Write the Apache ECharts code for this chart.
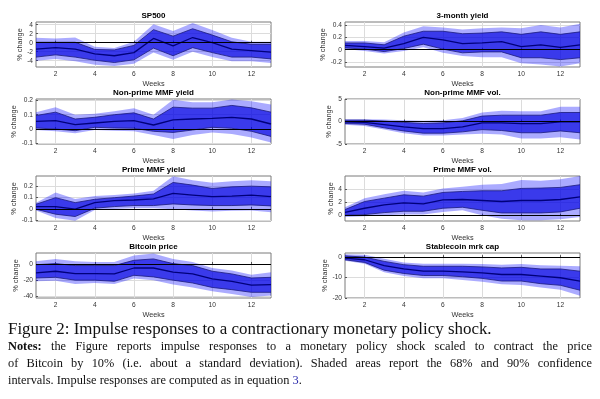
<!DOCTYPE html>
<html>
<head>
<meta charset="utf-8">
<script src="https://cdn.jsdelivr.net/npm/echarts@6.0.0/dist/echarts.min.js"></script>
<style>
html,body{margin:0;padding:0;background:#fff;}
#chart{width:600px;height:399px;}
</style>
</head>
<body>
<div id="chart"></div>
<script>
// ---------------- DATA ----------------
const weeks = [1,2,3,4,5,6,7,8,9,10,11,12,13];
const weekTicks = [2,4,6,8,10,12];
const panelTitles = ['SP500','3-month yield','Non-prime MMF yield','Non-prime MMF vol.','Prime MMF yield','Prime MMF vol.','Bitcoin price','Stablecoin mrk cap'];

// SP500
const sp500Median = [-1.45,-1.1,-1.45,-2.5,-2.9,-2.2,0.95,-0.7,1.15,0,-1.45,-1.75,-2.1];
const sp500Hi68   = [0.1,0.1,0.1,-1.5,-1.6,-0.6,2.9,1.45,3.1,1.7,0.2,-0.35,-0.35];
const sp500Lo68   = [-3.2,-2.7,-3.2,-3.9,-4.4,-3.8,-1.2,-2.9,-1.1,-2.2,-3.2,-3.2,-3.6];
const sp500Hi90   = [1.1,0.95,1.15,-0.9,-1.2,0.2,4.1,2.6,4.4,2.8,1.1,0.2,0.2];
const sp500Lo90   = [-4,-3.6,-4.1,-4.9,-5.2,-4.7,-2.2,-3.8,-2,-3.2,-4.1,-4.1,-4.5];
const sp500Ticks  = [-4,-2,0,2,4];

// 3-month yield
const y3mMedian = [0.07,0.05,0.025,0.1,0.2,0.16,0.1,0.11,0.13,0.05,0.08,0.04,0.08];
const y3mHi68   = [0.11,0.11,0.08,0.22,0.3,0.3,0.26,0.27,0.29,0.25,0.29,0.25,0.29];
const y3mLo68   = [0.03,0.01,-0.03,0.02,0.09,0.01,-0.05,-0.035,-0.035,-0.13,-0.13,-0.16,-0.13];
const y3mHi90   = [0.14,0.14,0.12,0.28,0.38,0.36,0.33,0.35,0.36,0.35,0.4,0.36,0.42];
const y3mLo90   = [0.01,-0.02,-0.06,-0.02,0.04,-0.05,-0.1,-0.12,-0.12,-0.22,-0.24,-0.27,-0.22];
const y3mTicks  = [-0.2,0,0.2,0.4];

// Non-prime MMF yield
const npYieldMedian = [0.054,0.059,0.03,0.042,0.054,0.059,0.028,0.064,0.07,0.075,0.082,0.07,0.035];
const npYieldHi68   = [0.094,0.118,0.07,0.082,0.1,0.113,0.07,0.153,0.146,0.146,0.165,0.148,0.118];
const npYieldLo68   = [0.007,0,-0.012,0.012,0.007,0.005,-0.016,-0.024,-0.007,0.012,0.005,-0.016,-0.052];
const npYieldHi90   = [0.118,0.153,0.099,0.106,0.125,0.146,0.1,0.205,0.188,0.188,0.207,0.195,0.172];
const npYieldLo90   = [-0.007,-0.016,-0.03,-0.007,-0.012,-0.016,-0.042,-0.07,-0.042,-0.024,-0.035,-0.059,-0.094];
const npYieldTicks  = [-0.1,0,0.1,0.2];

// Non-prime MMF vol.
const npVolMedian = [-0.1,-0.2,-0.7,-1.2,-1.6,-1.6,-1.2,-0.3,-0.3,-0.45,-0.45,-0.1,-0.1];
const npVolHi68   = [0.3,0.3,0.1,-0.2,-0.45,-0.3,0.15,1.2,1.4,1.4,1.4,2,2];
const npVolLo68   = [-0.45,-0.6,-1.4,-2.1,-2.6,-2.6,-2.3,-1.8,-2,-2.5,-2.5,-2.1,-2.5];
const npVolHi90   = [0.5,0.5,0.45,0.3,0.15,0.3,0.8,2,2.4,2.3,2.3,3.3,3.3];
const npVolLo90   = [-0.7,-1,-1.8,-2.6,-3.1,-3.1,-2.9,-2.7,-2.9,-3.8,-3.8,-3.5,-4];
const npVolTicks  = [-5,0,5];

// Prime MMF yield
const pYieldMedian = [0.02,0.02,-0.003,0.054,0.071,0.077,0.086,0.134,0.12,0.106,0.111,0.12,0.106];
const pYieldHi68   = [0.04,0.097,0.054,0.083,0.097,0.111,0.129,0.229,0.206,0.177,0.191,0.197,0.191];
const pYieldLo68   = [-0.003,-0.046,-0.066,0.006,0.02,0.029,0.029,0.043,0.034,0.029,0.029,0.034,0.026];
const pYieldHi90   = [0.054,0.143,0.086,0.111,0.12,0.134,0.157,0.283,0.249,0.226,0.24,0.249,0.24];
const pYieldLo90   = [-0.014,-0.08,-0.103,-0.009,0,0.006,0.006,-0.003,-0.014,-0.023,-0.017,-0.014,-0.029];
const pYieldTicks  = [-0.1,0,0.1,0.2];

// Prime MMF vol.
const pVolMedian = [0.5,1.1,1.6,1.9,1.75,2.35,2.4,2.25,2.1,2.25,2.25,2.4,2.8];
const pVolHi68   = [0.9,2.1,2.6,3.1,2.9,3.45,3.6,3.7,3.7,4.05,4.1,4.2,4.6];
const pVolLo68   = [0.05,0.15,0.45,0.65,0.65,1.1,1.25,0.8,0.4,0.4,0.4,0.55,1.1];
const pVolHi90   = [1.25,2.6,3.2,3.7,3.45,4.05,4.3,4.6,4.7,5.3,5.2,5.4,5.9];
const pVolLo90   = [-0.2,-0.1,0.05,0.15,0.15,0.55,0.8,0.05,-0.45,-0.7,-0.7,-0.55,-0.2];
const pVolTicks  = [0,2,4];

// Bitcoin price
const btcMedian = [-11,-9,-12,-12,-12.3,-5,-5,-10,-12.3,-18.5,-21.4,-26,-25.5];
const btcHi68   = [-1,0.4,-2,-2,-2,4.5,6.2,0.4,-2,-9,-12.3,-17.3,-16.5];
const btcLo68   = [-17.3,-16.5,-20,-20,-21.4,-14,-16,-20,-23.5,-29,-31.7,-35,-35];
const btcHi90   = [3.3,6.2,3.3,2.5,2.5,10.3,12.8,6.2,2.5,-5,-8.2,-13.2,-10.3];
const btcLo90   = [-21.4,-20.6,-24.7,-23.5,-24.7,-18,-20,-25.5,-29,-33.7,-37,-40.7,-39];
const btcTicks  = [-40,-20,0];

// Stablecoin mrk cap
const stableMedian = [-0.5,-1.3,-4.2,-5.8,-6.9,-6.9,-7.2,-7.7,-8.5,-8.5,-9.3,-10.1,-11.7];
const stableHi68   = [0.6,0,-2.1,-3.7,-4.5,-4.5,-4.5,-4.8,-5.3,-5,-5.8,-5.8,-6.9];
const stableLo68   = [-1.3,-2.6,-6.4,-8,-9,-9,-9.6,-10.4,-11.7,-11.7,-13,-13.8,-16.2];
const stableHi90   = [1.4,1.1,-0.8,-2.6,-3.2,-3.2,-3.2,-3.4,-3.7,-3.4,-4,-4.2,-4.5];
const stableLo90   = [-1.8,-3.2,-7.4,-9.3,-10.4,-10.4,-11.2,-12,-13.3,-13.6,-14.9,-16,-18.9];
const stableTicks  = [-20,-10,0];

// axis ranges
const yRanges = [[-5.4,4.6],[-0.28,0.45],[-0.105,0.21],[-5,5],[-0.105,0.285],[-0.8,5.9],[-42,13.5],[-20,2]];

// caption text
const captionTitle = 'Figure 2: Impulse responses to a contractionary monetary policy shock.';
const notesLabel = 'Notes:';
const notesLine1 = ' the Figure reports impulse responses to a monetary policy shock scaled to contract the price';
const notesLine2 = 'of Bitcoin by 10% (i.e. about a standard deviation). Shaded areas report the 68% and 90% confidence';
const notesLine3 = 'intervals. Impulse responses are computed as in equation ';
const notesRef = '3';

// ---------------- BUILD ----------------
const panels = [
  {med:sp500Median, hi68:sp500Hi68, lo68:sp500Lo68, hi90:sp500Hi90, lo90:sp500Lo90, ticks:sp500Ticks, gap:10.5},
  {med:y3mMedian, hi68:y3mHi68, lo68:y3mLo68, hi90:y3mHi90, lo90:y3mLo90, ticks:y3mTicks, gap:15},
  {med:npYieldMedian, hi68:npYieldHi68, lo68:npYieldLo68, hi90:npYieldHi90, lo90:npYieldLo90, ticks:npYieldTicks, gap:15.5},
  {med:npVolMedian, hi68:npVolHi68, lo68:npVolLo68, hi90:npVolHi90, lo90:npVolLo90, ticks:npVolTicks, gap:10},
  {med:pYieldMedian, hi68:pYieldHi68, lo68:pYieldLo68, hi90:pYieldHi90, lo90:pYieldLo90, ticks:pYieldTicks, gap:15},
  {med:pVolMedian, hi68:pVolHi68, lo68:pVolLo68, hi90:pVolHi90, lo90:pVolLo90, ticks:pVolTicks, gap:9.5},
  {med:btcMedian, hi68:btcHi68, lo68:btcLo68, hi90:btcHi90, lo90:btcLo90, ticks:btcTicks, gap:14},
  {med:stableMedian, hi68:stableHi68, lo68:stableLo68, hi90:stableHi90, lo90:stableLo90, ticks:stableTicks, gap:14}
];

const colLeft = [36, 345];
const gridW = 235;
const rowTop = [22, 99, 176, 253];
const gridH = 45;

const LIGHT = 'rgba(0,0,255,0.33)';
const DARK = 'rgba(0,0,225,0.66)';
const EDGE = '#1a1a7a';
const MED = '#00007a';
const AXC = '#333333';
const SANS = '"Liberation Sans", Arial, sans-serif';

function pairs(arr){ return weeks.map((w,k)=>[w, arr[k]]); }

function bandSeries(i, lo, hi, color){
  return {
    type:'custom', xAxisIndex:i, yAxisIndex:i, silent:true, animation:false,
    clip:true,
    encode:{x:0, y:[1,2]},
    data: weeks.map((w,k)=>[w, lo[k], hi[k]]),
    renderItem:(params, api)=>{
      if(params.dataIndex!==0) return null;
      const pts=[];
      for(let k=0;k<weeks.length;k++) pts.push(api.coord([weeks[k], hi[k]]));
      for(let k=weeks.length-1;k>=0;k--) pts.push(api.coord([weeks[k], lo[k]]));
      return {type:'polygon', shape:{points:pts}, style:{fill:color, stroke:null}};
    }
  };
}

const grids=[], xAxes=[], yAxes=[], series=[], graphics=[];
panels.forEach((p,i)=>{
  const col=i%2, row=Math.floor(i/2);
  grids.push({left:colLeft[col], top:rowTop[row], width:gridW, height:gridH, show:true, borderColor:'#7a7a7a', borderWidth:1, backgroundColor:'transparent', containLabel:false});
  xAxes.push({
    gridIndex:i, type:'value', min:1, max:13,
    axisLine:{show:false},
    axisTick:{show:true, inside:true, length:2, lineStyle:{color:'#555'}, customValues:weekTicks},
    axisLabel:{customValues:weekTicks, fontSize:6.6, color:AXC, margin:4, fontFamily:SANS},
    splitLine:{show:true, lineStyle:{color:'#dcdcdc', width:1}},
    name:'Weeks', nameLocation:'middle', nameGap:13.5,
    nameTextStyle:{fontSize:7.3, color:AXC, fontFamily:SANS}
  });
  yAxes.push({
    gridIndex:i, type:'value', min:yRanges[i][0], max:yRanges[i][1],
    axisLine:{show:false},
    axisTick:{show:true, inside:true, length:2, lineStyle:{color:'#555'}, customValues:p.ticks},
    axisLabel:{customValues:p.ticks, fontSize:6.6, color:AXC, margin:3, fontFamily:SANS},
    splitLine:{show:true, lineStyle:{color:'#dcdcdc', width:1}},
    name:'% change', nameLocation:'middle', nameGap:p.gap, nameRotate:90,
    nameTextStyle:{fontSize:7.3, color:AXC, fontFamily:SANS}
  });
  const base = {type:'line', xAxisIndex:i, yAxisIndex:i, symbol:'none', silent:true, animation:false, emphasis:{disabled:true}};
  series.push(bandSeries(i, p.lo90, p.hi90, LIGHT));
  series.push(bandSeries(i, p.lo68, p.hi68, DARK));
  series.push(Object.assign({}, base, {data:pairs(p.lo68), lineStyle:{color:EDGE, width:0.8}}));
  series.push(Object.assign({}, base, {data:pairs(p.hi68), lineStyle:{color:EDGE, width:0.8}}));
  series.push(Object.assign({}, base, {data:pairs(p.med), lineStyle:{color:MED, width:1.3},
    markLine:{silent:true, symbol:'none', animation:false, label:{show:false}, lineStyle:{color:'#000', width:1, type:'solid'}, data:[{yAxis:0}]}}));
  graphics.push({type:'text', x:colLeft[col]+gridW/2, y:rowTop[row]-6.5, z:10,
    style:{text:panelTitles[i], fontSize:8, fontWeight:'bold', fontFamily:SANS, fill:'#000', align:'center', verticalAlign:'middle'}});
});

// ---- caption layout ----
const mctx = document.createElement('canvas').getContext('2d');
const SERIF = '"Liberation Serif", "Times New Roman", serif';
function fontStr(fs,bold){ return (bold?'bold ':'')+fs+'px '+SERIF; }
function measure(t,fs,bold){ mctx.font=fontStr(fs,bold); return mctx.measureText(t).width; }
function tokenize(segs){
  const words=[]; let prevSpace=true;
  segs.forEach(s=>{
    const parts=s.text.split(' ');
    parts.forEach((pt,idx)=>{
      if(!pt.length) return;
      const attach = idx===0 && !prevSpace && words.length>0;
      const tok={t:pt,bold:!!s.bold,color:s.color||'#111'};
      if(attach) words[words.length-1].push(tok); else words.push([tok]);
    });
    prevSpace = s.text.endsWith(' ');
  });
  return words;
}
function layoutLine(segs,x0,x1,y,fs,justify){
  const words=tokenize(segs);
  const widths=words.map(w=>w.reduce((a,tk)=>a+measure(tk.t,fs,tk.bold),0));
  const total=widths.reduce((a,b)=>a+b,0);
  const gap = justify ? (x1-x0-total)/(words.length-1) : measure(' ',fs,false);
  let x=x0;
  words.forEach((w,k)=>{
    let xx=x;
    w.forEach(tk=>{
      graphics.push({type:'text', x:xx, y:y, style:{text:tk.t, fontSize:fs, fontWeight:tk.bold?'bold':'normal', fontFamily:SERIF, fill:tk.color, align:'left', verticalAlign:'middle'}});
      xx+=measure(tk.t,fs,tk.bold);
    });
    x+=widths[k]+gap;
  });
}
const titleFs = +(15*484/measure(captionTitle,15,false)).toFixed(2);
const line3Segs=[{text:notesLine3},{text:notesRef,color:'#1f1fa8'},{text:'.'}];
const notesFs = +(13*294/measure(notesLine3+notesRef+'.',13,false)).toFixed(2);
layoutLine([{text:captionTitle}],8,492,330,titleFs,false);
layoutLine([{text:notesLabel,bold:true},{text:notesLine1}],8,592,347,notesFs,true);
layoutLine([{text:notesLine2}],8,592,364,notesFs,true);
layoutLine(line3Segs,8,302,381,notesFs,false);

const chart = echarts.init(document.getElementById('chart'), null, {renderer:'canvas'});
chart.setOption({
  animation:false,
  backgroundColor:'#fff',
  grid:grids, xAxis:xAxes, yAxis:yAxes, series:series, graphic:graphics
});
</script>
</body>
</html>
